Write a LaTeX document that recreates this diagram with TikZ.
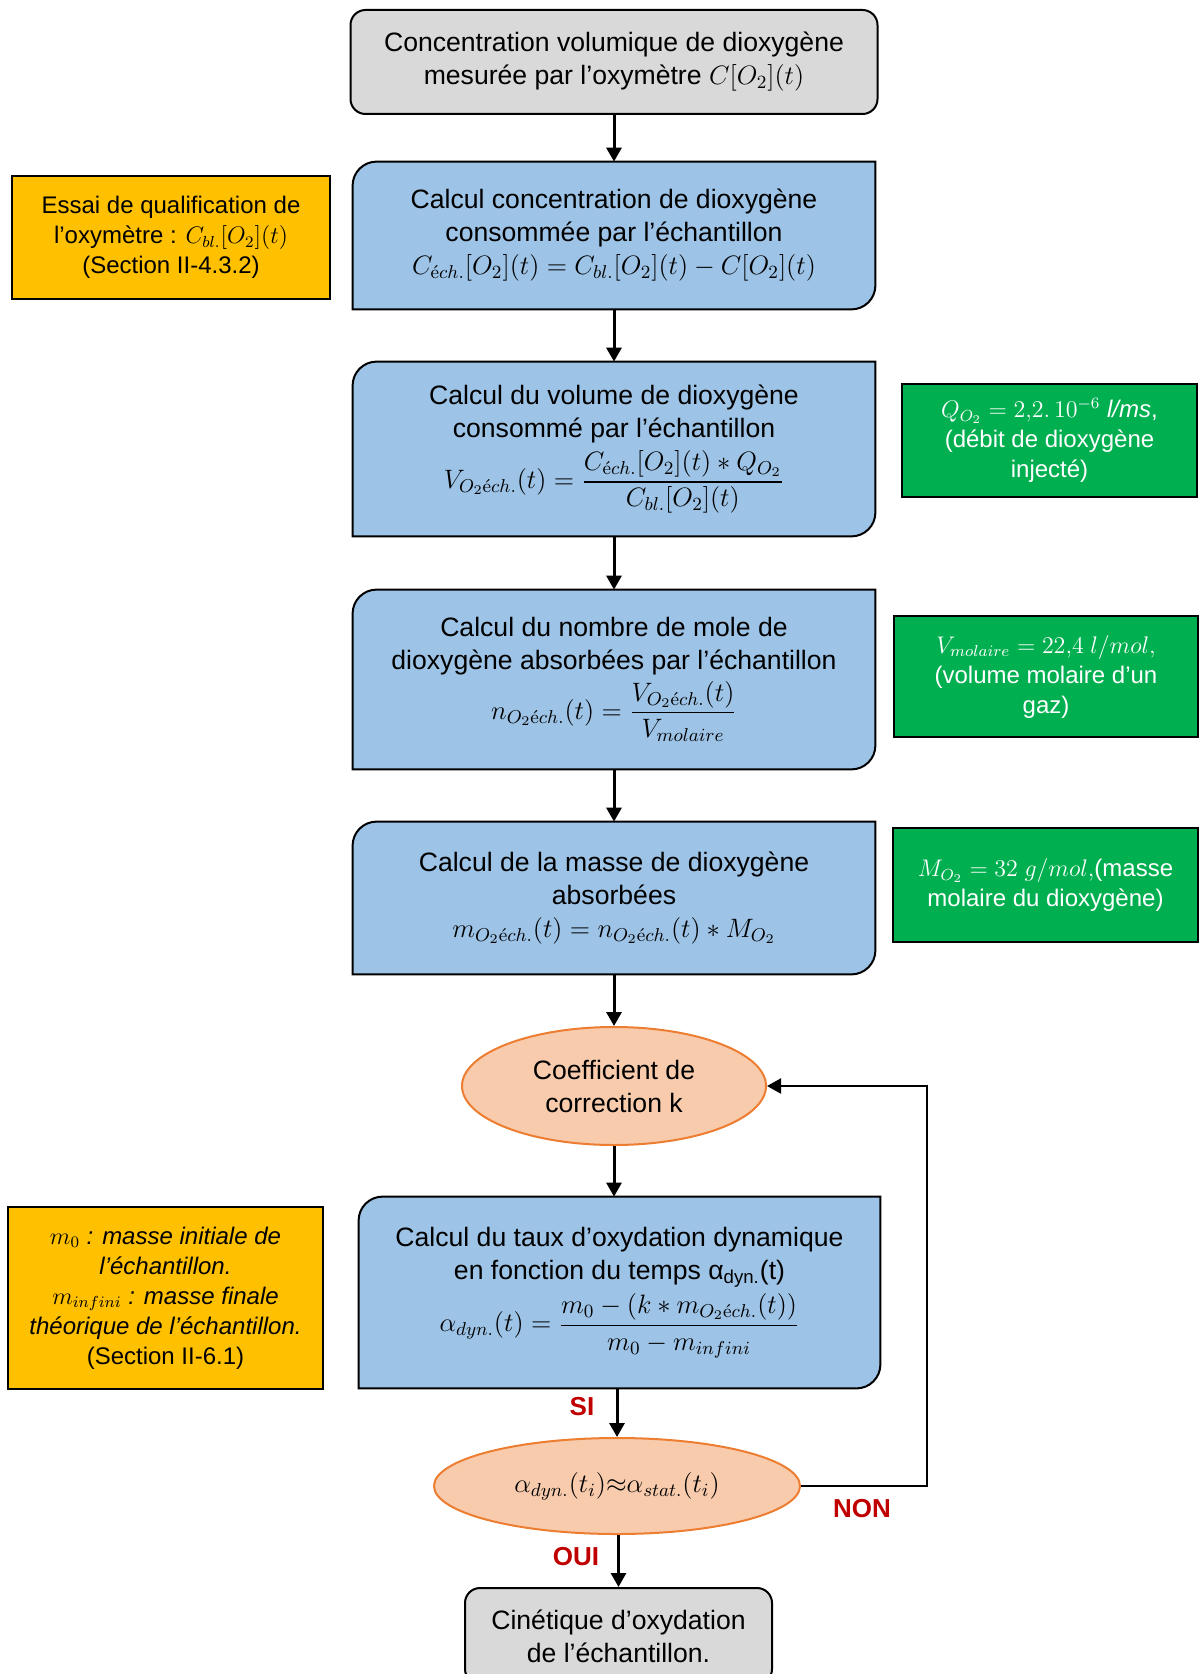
\documentclass[tikz,border=0pt]{standalone}
\usepackage{fix-cm}
\usepackage{amsmath}
\usepackage[no-math]{fontspec}
\setmainfont{Liberation Sans}
\usetikzlibrary{arrows.meta,shapes.geometric,backgrounds}
\definecolor{greybox}{HTML}{D9D9D9}
\definecolor{bluebox}{HTML}{9DC3E6}
\definecolor{yellowbox}{HTML}{FFC000}
\definecolor{greenbox}{HTML}{00B050}
\definecolor{peach}{HTML}{F8CBAD}
\definecolor{peachline}{HTML}{ED7D31}
\definecolor{redlabel}{HTML}{C00000}
\newcommand{\ech}{\mathrm{\acute{e}}ch.}

\begin{document}
\begin{tikzpicture}[
  x=0.5pt, y=-0.5pt,
  font=\fontsize{13.3}{16.5}\selectfont,
  start/.style={draw=black, line width=1pt, rounded corners=7.5pt, fill=greybox, align=center, inner sep=0pt},
  calcbox/.style={align=center, inner sep=0pt, minimum width=261pt},
  calcshape/.style={draw=black, line width=1pt, fill=bluebox},
  note/.style={draw=black, line width=1pt, fill=yellowbox, align=center, inner sep=0pt,
               font=\fontsize{12}{15}\selectfont},
  datum/.style={draw=black, line width=1pt, fill=greenbox, text=white, align=center, inner sep=0pt,
                font=\fontsize{12}{15}\selectfont},
  decide/.style={ellipse, draw=peachline, line width=1pt, fill=peach, align=center, inner sep=0pt},
  lbl/.style={text=redlabel, font=\bfseries\fontsize{13}{15}\selectfont},
  arr/.style={draw=black, line width=1.5pt, -{Triangle[length=7pt,width=7.5pt]}},
  loopline/.style={draw=black, line width=1pt, -{Triangle[length=7pt,width=7.5pt]}}
]
\useasboundingbox (0,0) rectangle (1200,1674);

% main column
\node[start, minimum width=263.5pt, minimum height=52pt] (meas) at (614,62) {Concentration volumique de dioxygène\\mesurée par l’oxymètre $C[O_2](t)$};
\node[calcbox, minimum height=73.5pt] (conc) at (614,235.5) {Calcul concentration de dioxygène\\consommée par l’échantillon\\$C_{\ech}[O_2](t)=C_{bl.}[O_2](t)-C[O_2](t)$};
\node[calcbox, minimum height=87pt] (vol) at (614,449) {Calcul du volume de dioxygène\\consommé par l’échantillon\\[3pt]$\displaystyle V_{O_2\ech}(t)=\frac{C_{\ech}[O_2](t)*Q_{O_2}}{C_{bl.}[O_2](t)}$};
\node[calcbox, minimum height=89.5pt] (mol) at (614,679.5) {Calcul du nombre de mole de\\dioxygène absorbées par l’échantillon\\[2pt]$\displaystyle n_{O_2\ech}(t)=\frac{V_{O_2\ech}(t)}{V_{molaire}}$};
\node[calcbox, minimum height=76pt] (mass) at (614,898) {Calcul de la masse de dioxygène\\absorbées\\$m_{O_2\ech}(t)=n_{O_2\ech}(t)*M_{O_2}$};
\node[decide, minimum width=152pt, minimum height=59pt] (coef) at (614,1086) {Coefficient de\\correction k};
\node[calcbox, minimum width=260.5pt, minimum height=95.5pt] (taux) at (619.5,1292.5) {Calcul du taux d’oxydation dynamique\\en fonction du temps α\textsubscript{dyn.}(t)\\[2pt]$\displaystyle \alpha_{dyn.}(t)=\frac{m_0-(k*m_{O_2\ech}(t))}{m_0-m_{infini}}$};
\node[decide, minimum width=183pt, minimum height=48pt] (test) at (617,1486) {$\alpha_{dyn.}(t_i){\approx}\alpha_{stat.}(t_i)$};
\node[start, minimum width=153.5pt, minimum height=48pt] (kin) at (618.5,1636) {Cinétique d’oxydation\\de l’échantillon.};

% side boxes
\node[note, minimum width=159pt, minimum height=61.5pt] (qual) at (171,237.5) {Essai de qualification de\\l’oxymètre : $C_{bl.}[O_2](t)$\\(Section II-4.3.2)};
\node[note, minimum width=157.5pt, minimum height=91pt] (masses) at (165.5,1298) {$m_0$ \textit{: masse initiale de}\\\textit{l’échantillon.}\\$m_{infini}$ \textit{: masse finale}\\\textit{théorique de l’échantillon.}\\(Section II-6.1)};
\node[datum, minimum width=147.5pt, minimum height=56.5pt] (debit) at (1049.5,440.5) {$Q_{O_2}=2{,}2.\,10^{-6}$ \textit{l/ms},\\(débit de dioxygène\\injecté)};
\node[datum, minimum width=152pt, minimum height=60.5pt] (vmol) at (1046,676.5) {$V_{molaire}=22{,}4\ l/mol,$\\(volume molaire d’un\\gaz)};
\node[datum, minimum width=152.5pt, minimum height=57pt] (mmol) at (1045.5,885) {$M_{O_2}=32\ g/mol,$(masse\\molaire du dioxygène)};

% blue outlines behind the text
\begin{scope}[on background layer]
\foreach \n in {conc,vol,mol,mass,taux}
  \draw[calcshape] (\n.south west) -- ([yshift=-12pt]\n.north west) arc[start angle=180, end angle=90, radius=12pt]
    -- (\n.north east) -- ([yshift=12pt]\n.south east) arc[start angle=0, end angle=-90, radius=12pt] -- cycle;
\end{scope}

% connectors
\draw[arr] (meas) -- (conc);
\draw[arr] (conc) -- (vol);
\draw[arr] (vol) -- (mol);
\draw[arr] (mol) -- (mass);
\draw[arr] (mass) -- (coef);
\draw[arr] (coef) -- (coef |- taux.north);
\draw[arr] (test |- taux.south) -- (test);
\draw[arr] (kin |- test.south) -- (kin);
\coordinate (loopcorner) at (927,1486);
\draw[loopline] (test.east) -- (loopcorner) |- (coef.east);

\node[lbl] (si) at (582,1407) {SI};
\node[lbl] (non) at (862,1509) {NON};
\node[lbl] (oui) at (576,1557) {OUI};
\end{tikzpicture}
\end{document}
